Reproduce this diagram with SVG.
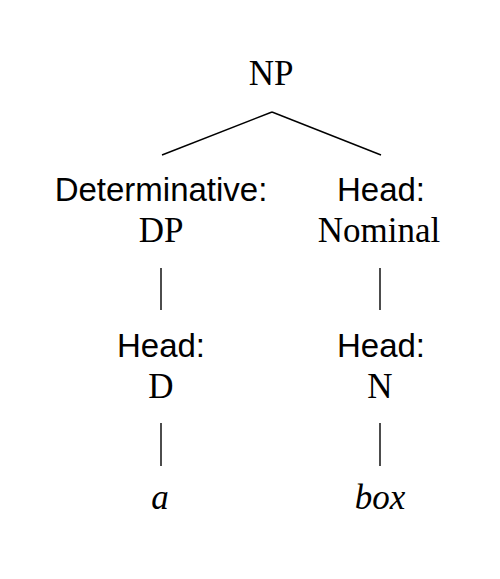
<svg xmlns="http://www.w3.org/2000/svg" width="500" height="579" viewBox="0 0 500 579">
<style>
.bg{fill:#ffffff}
.serif{font-family:"Liberation Serif","Times New Roman",serif;font-size:35px;fill:#000;text-anchor:middle}
.sans{font-family:"Liberation Sans",Arial,sans-serif;font-size:33px;fill:#000;text-anchor:middle}
.it{font-style:italic}
.edge{stroke:#000;stroke-width:1.4;fill:none}
</style>
<rect class="bg" x="0" y="0" width="500" height="579"/>
<g id="connectors">
<path class="edge" d="M272 112 L162 155"/>
<path class="edge" d="M272 112 L381 155"/>
<path class="edge" d="M161 268 L161 310"/>
<path class="edge" d="M380 268 L380 310"/>
<path class="edge" d="M161 423 L161 466"/>
<path class="edge" d="M380 423 L380 466"/>
</g>
<g id="node-np"><text class="serif" x="271" y="85">NP</text></g>
<g id="node-det">
<text class="sans" x="161" y="201">Determinative:</text>
<text class="serif" x="161" y="242">DP</text>
</g>
<g id="node-head-nominal">
<text class="sans" x="381" y="201">Head:</text>
<text class="serif" x="379" y="242">Nominal</text>
</g>
<g id="node-head-d">
<text class="sans" x="161" y="357">Head:</text>
<text class="serif" x="161" y="398">D</text>
</g>
<g id="node-head-n">
<text class="sans" x="381" y="357">Head:</text>
<text class="serif" x="380" y="398">N</text>
</g>
<g id="node-a"><text class="serif it" x="160" y="509">a</text></g>
<g id="node-box"><text class="serif it" x="380" y="509">box</text></g>
</svg>
